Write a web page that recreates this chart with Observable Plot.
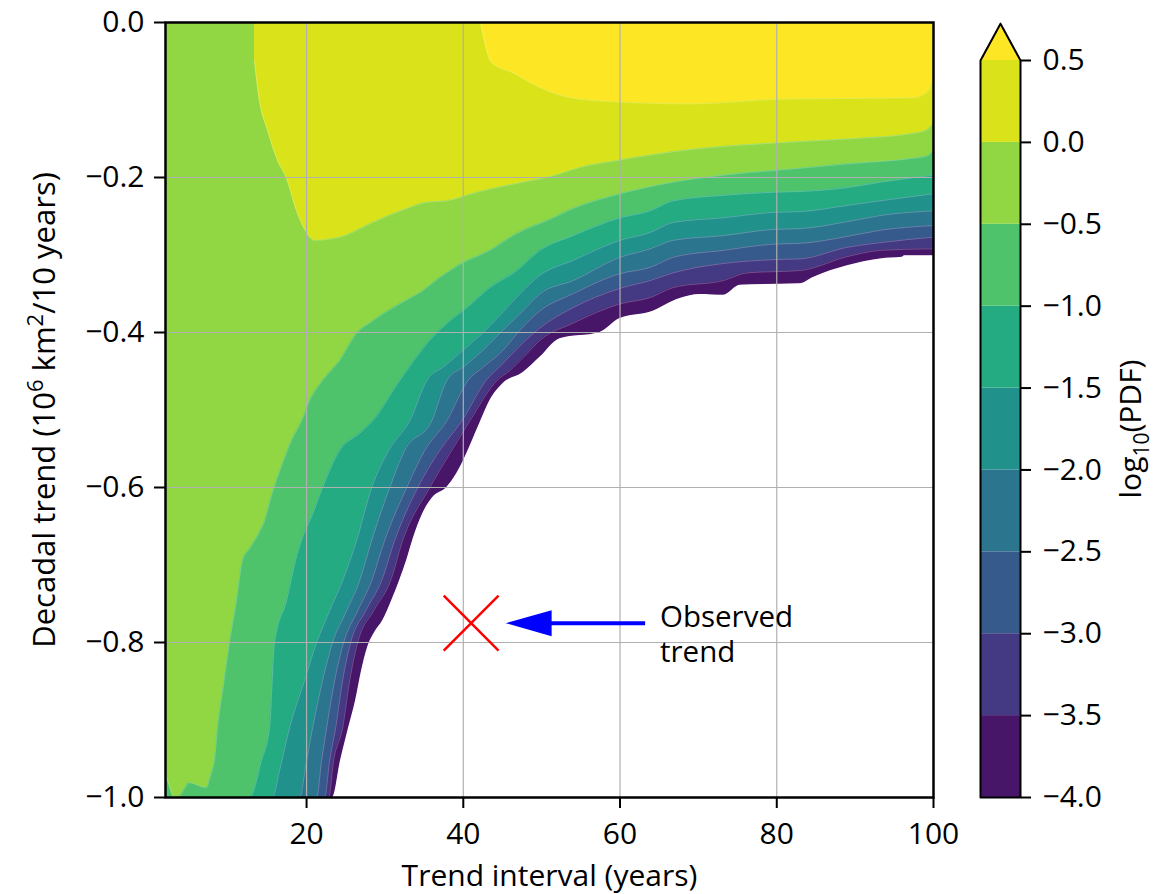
<!DOCTYPE html>
<html>
<head>
<meta charset="utf-8">
<script src="https://cdn.jsdelivr.net/npm/d3@7"></script>
<script src="https://cdn.jsdelivr.net/npm/@observablehq/plot@0.6"></script>
<style>
  body { margin: 0; background: #fff; }
  #figure { position: relative; width: 1162px; height: 894px; }
  #figure > svg { position: absolute; top: 0; overflow: visible; }
</style>
</head>
<body>
<div id="figure"></div>
<script>
// Filled-contour levels of log10(PDF); the band above the last level is open-ended.
const levels = [-4.0, -3.5, -3.0, -2.5, -2.0, -1.5, -1.0, -0.5, 0.0, 0.5];

// Lower edge of the region where log10(PDF) exceeds each level:
// [trend interval (years), decadal trend (10^6 km^2 / 10 years)]
const edgeM40 = [[2,-1],[23.32,-1],[24.35,-0.952],[25.37,-0.910],[26.26,-0.875],[27.03,-0.836],[27.80,-0.806],[28.69,-0.787],[29.71,-0.772],[30.86,-0.746],[31.88,-0.720],[32.78,-0.694],[33.55,-0.668],[34.82,-0.634],[36.10,-0.613],[37.89,-0.600],[39.17,-0.582],[40.45,-0.556],[42.11,-0.517],[43.39,-0.488],[45.05,-0.466],[47.60,-0.452],[49.78,-0.432],[52.33,-0.408],[57.44,-0.400],[60.00,-0.382],[63.83,-0.374],[67.67,-0.356],[70.22,-0.351],[73.16,-0.352],[75.34,-0.339],[83.00,-0.337],[84.66,-0.329],[89.01,-0.314],[93.23,-0.305],[96.04,-0.303],[96.29,-0.301],[100,-0.301]];
const edgeM35 = [[2,-1],[22.81,-1],[23.45,-0.952],[24.60,-0.910],[25.50,-0.849],[26.52,-0.800],[28.56,-0.759],[30.73,-0.720],[32.27,-0.668],[35.72,-0.600],[38.53,-0.552],[40.83,-0.514],[44.28,-0.462],[45.94,-0.449],[47.86,-0.430],[49.78,-0.410],[53.99,-0.388],[60.00,-0.363],[63.83,-0.355],[66.77,-0.342],[73.16,-0.333],[76.23,-0.323],[83.00,-0.320],[89.01,-0.302],[93.23,-0.294],[100,-0.292]];
const edgeM30 = [[2,-1],[22.30,-1],[22.94,-0.952],[23.71,-0.910],[24.60,-0.849],[25.62,-0.800],[27.54,-0.759],[29.58,-0.720],[31.25,-0.668],[34.19,-0.600],[37.00,-0.552],[39.81,-0.514],[42.88,-0.462],[45.05,-0.440],[47.22,-0.417],[49.78,-0.394],[53.99,-0.368],[60.00,-0.343],[63.83,-0.333],[66.77,-0.323],[73.16,-0.311],[79.55,-0.306],[83.00,-0.305],[89.01,-0.290],[93.23,-0.284],[100,-0.277]];
const edgeM25 = [[2,-1],[21.28,-1],[21.92,-0.952],[22.56,-0.910],[23.58,-0.849],[24.73,-0.800],[26.52,-0.759],[28.31,-0.720],[29.97,-0.668],[32.78,-0.600],[35.08,-0.552],[37.89,-0.514],[40.58,-0.462],[42.75,-0.443],[45.05,-0.423],[47.22,-0.397],[49.78,-0.372],[53.99,-0.350],[60.00,-0.324],[63.83,-0.316],[66.77,-0.303],[73.16,-0.294],[79.55,-0.286],[83.00,-0.285],[89.01,-0.276],[93.23,-0.268],[100,-0.262]];
const edgeM20 = [[2,-1],[19.11,-1],[20.00,-0.952],[20.77,-0.910],[22.04,-0.849],[23.32,-0.800],[25.11,-0.759],[26.77,-0.720],[28.31,-0.668],[30.61,-0.600],[32.52,-0.552],[35.97,-0.514],[37.89,-0.462],[40.19,-0.443],[42.49,-0.423],[45.05,-0.397],[47.60,-0.372],[49.78,-0.350],[53.99,-0.333],[60.00,-0.303],[63.83,-0.292],[66.77,-0.281],[73.16,-0.275],[79.55,-0.267],[83.00,-0.266],[89.01,-0.257],[93.23,-0.249],[100,-0.243]];
const edgeM15 = [[2,-1],[15.65,-1],[16.55,-0.965],[17.83,-0.910],[19.74,-0.849],[21.28,-0.800],[22.94,-0.759],[24.60,-0.720],[26.39,-0.668],[28.31,-0.600],[30.48,-0.552],[33.16,-0.514],[35.34,-0.462],[37.64,-0.443],[39.94,-0.423],[42.11,-0.404],[44.66,-0.378],[47.22,-0.350],[49.78,-0.326],[53.99,-0.307],[60.00,-0.281],[63.83,-0.271],[66.77,-0.258],[73.16,-0.252],[79.55,-0.245],[83.00,-0.244],[89.01,-0.236],[93.23,-0.230],[100,-0.221]];
const edgeM10 = [[2,-1],[12.72,-1],[14.25,-0.952],[15.27,-0.910],[15.91,-0.800],[17.44,-0.746],[18.59,-0.694],[19.36,-0.668],[20.77,-0.634],[22.04,-0.600],[24.22,-0.552],[26.77,-0.530],[28.43,-0.514],[31.88,-0.462],[35.72,-0.410],[38.27,-0.385],[40.45,-0.368],[43.39,-0.342],[46.84,-0.320],[49.78,-0.294],[53.99,-0.275],[60.00,-0.252],[63.83,-0.243],[66.77,-0.230],[73.16,-0.223],[79.55,-0.219],[83.00,-0.218],[89.01,-0.213],[93.23,-0.206],[100,-0.197]];
const edgeM05 = [[2,-0.969],[2.49,-0.985],[3.13,-1],[3.64,-1],[4.28,-0.991],[5.05,-0.981],[5.81,-0.983],[6.58,-0.986],[7.22,-0.987],[7.73,-0.972],[7.99,-0.963],[8.24,-0.952],[8.63,-0.910],[9.39,-0.855],[10.16,-0.800],[11.05,-0.746],[11.82,-0.694],[12.72,-0.679],[13.74,-0.662],[14.63,-0.643],[15.53,-0.610],[16.81,-0.572],[18.08,-0.539],[19.36,-0.514],[20.38,-0.488],[22.04,-0.462],[24.22,-0.436],[26.39,-0.401],[28.43,-0.385],[31.88,-0.363],[34.82,-0.346],[37.00,-0.329],[39.94,-0.310],[43.39,-0.294],[46.84,-0.272],[51.05,-0.254],[53.99,-0.240],[60.00,-0.221],[66.77,-0.206],[73.16,-0.197],[79.55,-0.191],[83.00,-0.188],[89.39,-0.182],[97.44,-0.175],[99.23,-0.172],[100,-0.165]];
const edge00 = [[13.35,-0.049],[13.99,-0.101],[15.02,-0.139],[16.29,-0.178],[17.44,-0.201],[18.72,-0.243],[20.00,-0.271],[21.02,-0.281],[24.22,-0.277],[28.43,-0.258],[32.78,-0.240],[35.34,-0.232],[37.89,-0.230],[41.73,-0.219],[47.60,-0.206],[51.05,-0.199],[54.89,-0.187],[59.62,-0.178],[68.95,-0.164],[80.45,-0.155],[89.39,-0.150],[97.44,-0.143],[99.23,-0.138],[100,-0.129]];
const edge05 = [[42.2,0],[43.64,-0.052],[46.33,-0.065],[49.78,-0.084],[53.61,-0.097],[58.72,-0.102],[68.95,-0.105],[80.45,-0.099],[97.44,-0.097],[99.23,-0.090],[100,-0.072]];

const edges = [edgeM40, edgeM35, edgeM30, edgeM25, edgeM20, edgeM15, edgeM10, edgeM05, edge00, edge05];

// Axis ticks
const xTicks = [20, 40, 60, 80, 100];
const yTicks = [0, -0.2, -0.4, -0.6, -0.8, -1.0];
const xGrid = [20, 40, 60, 80];
const yGrid = [-0.2, -0.4, -0.6, -0.8];

// Observed trend and its note
const observed = {interval: 41, trend: -0.775, note: "Observed\ntrend"};
const arrowTail = 63.2;   // trend interval at the arrow's tail
const arrowTip = 45.4;    // trend interval at the arrow's tip
const noteStart = 65.1;   // trend interval where the note text begins

// Band colours: viridis sampled at each band's midpoint; the open-ended band takes the top colour
const nb = levels.length - 1;
const bandColors = levels.map((l, i) => d3.interpolateViridis(i < nb ? (i + 0.5) / nb : 1));

const font = "'Open Sans', 'DejaVu Sans', sans-serif";
const fmt = d3.format(".1f");
const curve = "monotone-x";

// Filled arrow head pointing toward -x, tip at the origin
const arrowHead = {
  draw(context) {
    context.moveTo(0, 0);
    context.lineTo(46, -13);
    context.lineTo(46, 13);
    context.closePath();
  }
};

const main = Plot.plot({
  width: 960,
  height: 894,
  marginLeft: 165,
  marginRight: 27,
  marginTop: 22,
  marginBottom: 97,
  style: {fontFamily: font, fontSize: "30px", color: "black", background: "transparent"},
  x: {domain: [2, 100]},
  y: {domain: [-1, 0]},
  marks: [
    ...edges.map((edge, i) =>
      Plot.areaY(edge, {x: (d) => d[0], y1: 0, y2: (d) => d[1], fill: bandColors[i], curve, clip: true})
    ),
    // faint seams along the contour lines
    ...edges.map((edge) =>
      Plot.line(edge, {x: (d) => d[0], y: (d) => d[1], stroke: "white", strokeOpacity: 0.3, strokeWidth: 0.8, curve, clip: true})
    ),
    Plot.ruleX(xGrid, {stroke: "#b0b0b0", strokeWidth: 1.2}),
    Plot.ruleY(yGrid, {stroke: "#b0b0b0", strokeWidth: 1.2}),
    Plot.dot([observed], {x: "interval", y: "trend", symbol: "times", r: 25, stroke: "red", strokeWidth: 2.5}),
    Plot.link([observed], {x1: arrowTail, x2: arrowTip + 4, y1: "trend", y2: "trend", stroke: "blue", strokeWidth: 4}),
    Plot.dot([observed], {x: arrowTip, y: "trend", symbol: arrowHead, r: 10, fill: "blue", stroke: "none"}),
    Plot.text([observed], {x: noteStart, y: "trend", text: "note", textAnchor: "start", lineAnchor: "middle", lineHeight: 1.2, dy: 10, fontSize: 29.5, fill: "black"}),
    Plot.frame({stroke: "black", strokeWidth: 2.5}),
    Plot.axisX({ticks: xTicks, tickSize: 11, tickPadding: 14, strokeWidth: 2, fontSize: 30,
      label: "Trend interval (years)", labelArrow: "none", labelAnchor: "center", labelOffset: 88}),
    Plot.axisY({ticks: yTicks, tickFormat: fmt, tickSize: 11, tickPadding: 10, strokeWidth: 2, fontSize: 30,
      label: "Decadal trend (10^6 km^2/10 years)", labelArrow: "none", labelAnchor: "center", labelOffset: 133})
  ]
});

// Colour bar: one cell per band, an arrow-shaped cap for the open-ended band
const step = levels[1] - levels[0];
const capBase = levels[nb];
const capApex = capBase + step * 0.45;
const cells = levels.slice(0, nb).map((l, i) => ({lo: l, hi: levels[i + 1], color: bandColors[i]}));
const cap = [{x: 0, y: capBase}, {x: 0.5, y: capApex}, {x: 1, y: capBase}];
const outline = [{x: 0, y: levels[0]}, {x: 0, y: capBase}, {x: 0.5, y: capApex}, {x: 1, y: capBase}, {x: 1, y: levels[0]}, {x: 0, y: levels[0]}];

const bar = Plot.plot({
  width: 202,
  height: 894,
  marginLeft: 20,
  marginRight: 142,
  marginTop: 60,
  marginBottom: 97,
  style: {fontFamily: font, fontSize: "30px", color: "black", background: "transparent"},
  x: {domain: [0, 1], axis: null},
  y: {domain: [levels[0], capBase]},
  color: {type: "identity"},
  marks: [
    Plot.rect(cells, {x1: 0, x2: 1, y1: "lo", y2: "hi", fill: "color"}),
    Plot.areaY(cap, {x: "x", y1: capBase, y2: "y", fill: bandColors[nb]}),
    Plot.line(outline, {x: "x", y: "y", stroke: "black", strokeWidth: 2}),
    Plot.axisY({anchor: "right", ticks: levels, tickFormat: fmt, tickSize: 10, tickPadding: 12, strokeWidth: 2, fontSize: 30,
      label: "log10(PDF)", labelArrow: "none", labelAnchor: "center", labelOffset: 120})
  ]
});

const fig = document.getElementById("figure");
main.style.left = "0px";
bar.style.left = "960px";
fig.appendChild(main);
fig.appendChild(bar);

// Axis labels with superscripts / subscripts
function richLabel(svg, axis, size, parts) {
  const t = svg.querySelector(`[aria-label="${axis}-axis label"] text`);
  if (!t) return;
  t.textContent = "";
  t.setAttribute("font-size", size);
  for (const [s, kind] of parts) {
    const span = document.createElementNS("http://www.w3.org/2000/svg", "tspan");
    span.textContent = s;
    if (kind === "sup") { span.setAttribute("dy", "-12"); span.setAttribute("font-size", "22"); }
    else if (kind === "sub") { span.setAttribute("dy", "8"); span.setAttribute("font-size", "21"); }
    else if (kind === "afterSup") span.setAttribute("dy", "12");
    else if (kind === "afterSub") span.setAttribute("dy", "-8");
    t.appendChild(span);
  }
}
richLabel(main, "y", 31, [["Decadal trend (10"], ["6", "sup"], [" km", "afterSup"], ["2", "sup"], ["/10 years)", "afterSup"]]);
richLabel(bar, "y", 30, [["log"], ["10", "sub"], ["(PDF)", "afterSub"]]);
</script>
</body>
</html>
